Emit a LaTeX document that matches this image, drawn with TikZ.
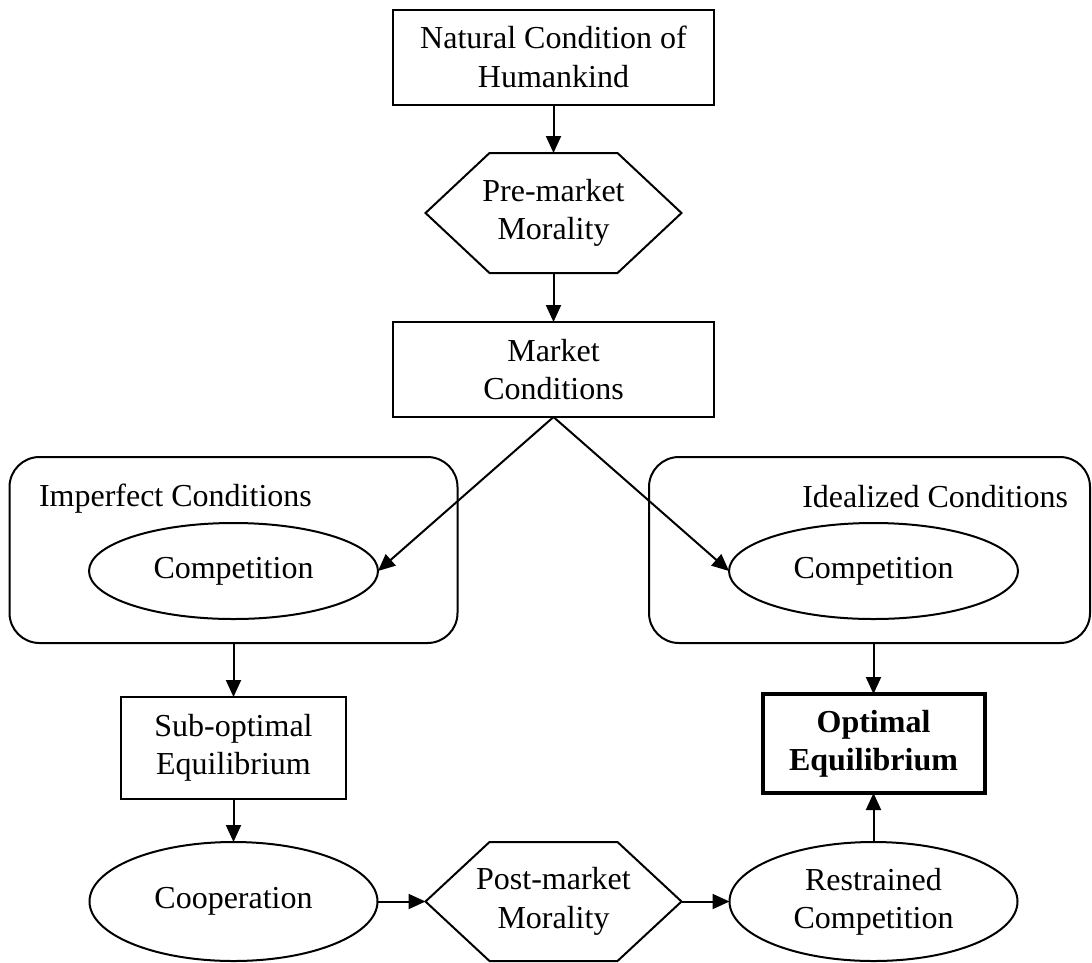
\documentclass[tikz,border=0pt]{standalone}
\usepackage{fontspec}
\setmainfont{Liberation Serif}
\usetikzlibrary{arrows.meta,shapes.geometric}

% six-sided outline around an invisible rectangular node
\newcommand\hexoutline[1]{%
  \draw[line] (#1.west) -- ([xshift=64pt]#1.north west) -- ([xshift=-64pt]#1.north east)
    -- (#1.east) -- ([xshift=-64pt]#1.south east) -- ([xshift=64pt]#1.south west) -- cycle;}

\begin{document}
\begin{tikzpicture}[x=1pt,y=-1pt,
  every node/.style={font=\fontsize{32}{38.4}\selectfont, align=center, inner sep=0pt, outer sep=0pt},
  line/.style={line width=2pt, line join=miter},
  arr/.style={line width=2pt, -{Triangle[length=17pt,width=15pt]}},
  box/.style={draw, line width=2pt, rectangle, minimum width=321pt, minimum height=95pt},
  smallbox/.style={draw, line width=2pt, rectangle, minimum width=225pt, minimum height=102pt},
  bigbox/.style={draw, line width=4pt, rectangle, minimum width=222pt, minimum height=99pt, font=\fontsize{32}{38.4}\selectfont\bfseries},
  hexa/.style={rectangle, minimum width=256pt, minimum height=120pt},
  oval/.style={draw, line width=2pt, ellipse, minimum width=289pt, minimum height=96pt},
  talloval/.style={draw, line width=2pt, ellipse, minimum width=288pt, minimum height=119pt},
  group/.style={draw, line width=2pt, rectangle, rounded corners=30pt, minimum height=186pt},
  grouplabel/.style={inner sep=0pt}
]
\useasboundingbox (0,0) rectangle (1092,962);

% containers for the two market regimes
\node[group, minimum width=448pt] (imperfect) at (233.5,550) {};
\node[group, minimum width=441pt] (ideal) at (869.5,550) {};
\node[grouplabel, anchor=base west] (imperfectlbl) at (39,506) {Imperfect Conditions};
\node[grouplabel, anchor=base east] (ideallbl) at (1068,507) {Idealized Conditions};

% main column
\node[box] (natural) at (553.5,57) {Natural Condition of\\Humankind};
\node[hexa] (pre) at (553.5,213) {Pre-market\\Morality};
\hexoutline{pre}
\node[box] (market) at (553.5,369.5) {Market\\Conditions};

% competition under each regime
\node[oval] (compL) at (233.5,571) {Competition};
\node[oval] (compR) at (873.5,571) {Competition};

% outcomes
\node[smallbox] (sub) at (233.5,748) {Sub-optimal\\Equilibrium};
\node[bigbox] (opt) at (873.5,743.5) {Optimal\\Equilibrium};

% bottom row
\node[talloval] (coop) at (233.5,901.5) {Cooperation};
\node[hexa, minimum height=119pt] (post) at (553.5,901.5) {Post-market\\Morality};
\hexoutline{post}
\node[talloval] (restr) at (873.5,901.5) {Restrained\\Competition};

% connectors
\draw[arr] (natural.south) -- (pre.north);
\draw[arr] (pre.south) -- (market.north);
\draw[arr] (market.south) -- (compL.east);
\draw[arr] (market.south) -- (compR.west);
\draw[arr] (imperfect.south) -- (sub.north);
\draw[arr] (ideal.south -| opt.north) -- (opt.north);
\draw[arr] (sub.south) -- (coop.north);
\draw[arr] (coop.east) -- (post.west);
\draw[arr] (post.east) -- (restr.west);
\draw[arr] (restr.north) -- (opt.south);
\end{tikzpicture}
\end{document}
